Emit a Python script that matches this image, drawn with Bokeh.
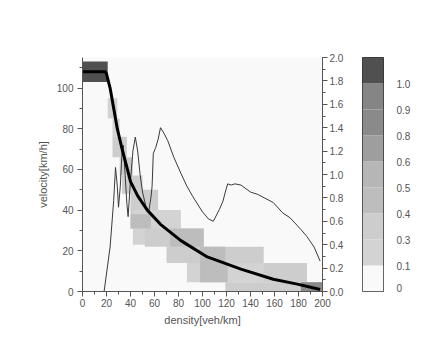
from bokeh.plotting import figure
from bokeh.models import Range1d, LinearAxis, FixedTicker, ColumnDataSource
from bokeh.layouts import row
from bokeh.embed import file_html
from bokeh.resources import INLINE

# ---------------- data ----------------
# fitted velocity-density curve (left axis, km/h)
fit_x = [0, 19, 20, 23, 26, 29, 33, 37, 40, 46, 54, 65, 82, 104, 132, 159, 180, 198]
fit_y = [108, 108, 107, 100, 90, 80, 70, 61, 54, 47, 40, 33, 25, 17, 11, 6, 3.5, 1]

# thin line (right axis, 0..2)
thin_x = [18, 23, 26, 27.5, 29, 30, 31.5, 33, 34, 35.5, 37, 38, 40, 42, 44, 46, 48, 50,
          53, 55, 57, 58, 59, 61, 63, 65, 68, 71, 76, 82, 87, 92, 100, 105, 109, 114,
          117, 119, 121, 124, 127, 132, 140, 146, 159, 167, 173, 182, 187, 193, 198]
thin_y = [0.0, 0.38, 0.78, 1.06, 0.9, 0.72, 0.9, 1.2, 1.25, 1.0, 0.75, 0.64, 0.95, 1.2, 1.32,
          1.2, 1.0, 0.85, 0.72, 0.67, 0.8, 0.9, 1.18, 1.23, 1.3, 1.4, 1.35, 1.29, 1.15, 1.01,
          0.9, 0.81, 0.68, 0.62, 0.6, 0.7, 0.77, 0.85, 0.92, 0.91, 0.92, 0.91, 0.85, 0.83,
          0.76, 0.67, 0.63, 0.53, 0.47, 0.38, 0.26]

# density map cells
cell_x0 = [0, 21, 25, 25, 31, 33, 40, 42, 52, 70, 87, 119, 40, 73, 98, 98, 151, 182]
cell_x1 = [21, 29, 31, 37, 42, 50, 63, 82, 101, 151, 187, 200, 57, 101, 119, 121, 187, 200]
cell_y0 = [103, 85, 76, 66, 57, 48, 31, 23, 22, 14, 4.5, 0, 31, 22, 14, 4.5, 4.5, 0]
cell_y1 = [113, 95, 85, 76, 66, 57, 50, 40, 31, 22, 14, 4.5, 38, 31, 22, 14, 14, 4.5]
cell_v = [1.05, 0.2, 0.2, 0.35, 0.35, 0.35, 0.35, 0.2, 0.35, 0.35, 0.2, 0.35,
          0.45, 0.45, 0.45, 0.45, 0.35, 0.85]

# colour scale
cb_bounds = [0, 0.1, 0.3, 0.4, 0.5, 0.6, 0.8, 0.9, 1.0]
cb_labels = ["0", "0.1", "0.3", "0.4", "0.5", "0.6", "0.8", "0.9", "1.0"]
cb_colors = ["#f9f9f9", "#d3d3d3", "#cdcdcd", "#bdbdbd", "#b6b6b6",
             "#9e9e9e", "#8a8a8a", "#858585", "#505050"]

x_ticks = [0, 20, 40, 60, 80, 100, 120, 140, 160, 180, 200]
y_ticks = [0, 20, 40, 60, 80, 100]
r_ticks = [0.0, 0.2, 0.4, 0.6, 0.8, 1.0, 1.2, 1.4, 1.6, 1.8, 2.0]


def level_color(v):
    idx = 0
    for i, b in enumerate(cb_bounds):
        if v >= b:
            idx = i
    return cb_colors[idx]


FONT = "Liberation Sans"
TXT = "#555555"

p = figure(width=352, height=341, output_backend="svg", toolbar_location=None,
           x_range=Range1d(0, 200), y_range=Range1d(0, 115),
           min_border_left=82, min_border_right=30, min_border_top=57, min_border_bottom=49)
p.extra_y_ranges = {"r": Range1d(0, 2)}
p.outline_line_color = None
p.background_fill_color = "#f9f9f9"
p.border_fill_color = "white"
p.grid.visible = False

src = ColumnDataSource(dict(left=cell_x0, right=cell_x1, bottom=cell_y0, top=cell_y1,
                            color=[level_color(v) for v in cell_v]))
p.quad(left="left", right="right", bottom="bottom", top="top", fill_color="color",
       line_color=None, source=src)

p.line(thin_x, thin_y, y_range_name="r", line_color="#3a3a3a", line_width=1)
p.line(fit_x, fit_y, line_color="black", line_width=3)

ax_r = LinearAxis(y_range_name="r")
p.add_layout(ax_r, "right")

for ax in [p.xaxis[0], p.yaxis[0], ax_r]:
    ax.axis_line_color = "#555555"
    ax.major_tick_line_color = "#555555"
    ax.minor_tick_line_color = "#555555"
    ax.major_tick_in = 0
    ax.major_tick_out = 5
    ax.minor_tick_in = 0
    ax.minor_tick_out = 3
    ax.major_label_text_font = FONT
    ax.major_label_text_font_size = "10px"
    ax.major_label_text_color = TXT
    ax.axis_label_text_font = FONT
    ax.axis_label_text_font_size = "11px"
    ax.axis_label_text_color = TXT
    ax.axis_label_text_font_style = "normal"

p.xaxis[0].ticker = FixedTicker(ticks=x_ticks, minor_ticks=list(range(0, 201, 10)))
p.yaxis[0].ticker = FixedTicker(ticks=y_ticks, minor_ticks=list(range(0, 116, 10)))
ax_r.ticker = FixedTicker(ticks=r_ticks, minor_ticks=[i / 10 for i in range(0, 21)])
ax_r.major_label_overrides = {t: f"{t:.1f}" for t in r_ticks}
p.xaxis[0].axis_label = "density[veh/km]"
p.yaxis[0].axis_label = "velocity[km/h]"
p.xaxis[0].major_label_standoff = 2
p.yaxis[0].major_label_standoff = 4
ax_r.major_label_standoff = 2
p.xaxis[0].axis_label_standoff = 4
p.yaxis[0].axis_label_standoff = 5

# ------------- colour bar -------------
cb = figure(width=71, height=341, output_backend="svg", toolbar_location=None,
            x_range=Range1d(0, 1), y_range=Range1d(0, len(cb_colors)),
            x_axis_location=None, y_axis_location=None,
            min_border_left=10, min_border_right=40, min_border_top=55, min_border_bottom=50)
cb.grid.visible = False
cb.outline_line_color = "#333333"
cb.background_fill_color = "white"
cb.quad(left=0, right=1, bottom=list(range(len(cb_colors))),
        top=list(range(1, len(cb_colors) + 1)), fill_color=cb_colors, line_color=None)
cb_ax = LinearAxis()
cb_ax.ticker = FixedTicker(ticks=[0.15] + list(range(1, len(cb_labels))))
overrides = {0.15: cb_labels[0]}
for i in range(1, len(cb_labels)):
    overrides[i] = cb_labels[i]
cb_ax.major_label_overrides = overrides
cb_ax.axis_line_color = None
cb_ax.major_tick_line_color = None
cb_ax.minor_tick_line_color = None
cb_ax.major_label_standoff = 7
cb_ax.major_label_text_font = FONT
cb_ax.major_label_text_font_size = "10px"
cb_ax.major_label_text_color = TXT
cb.add_layout(cb_ax, "right")

layout = row(p, cb)
open("out.html", "w").write(file_html(layout, INLINE))
